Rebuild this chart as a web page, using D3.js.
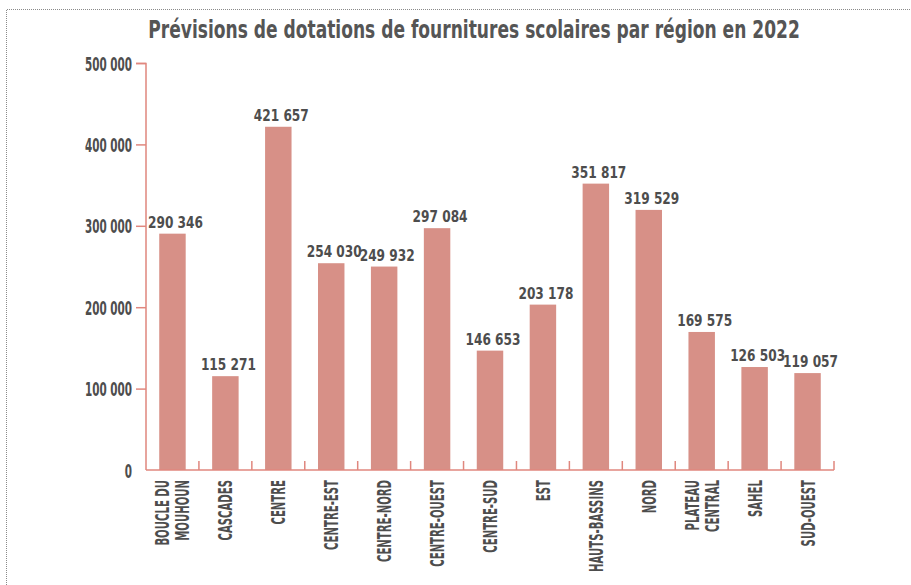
<!DOCTYPE html>
<html>
<head>
<meta charset="utf-8">
<script src="https://cdn.jsdelivr.net/npm/d3@7"></script>
<style>
  html, body { margin: 0; padding: 0; background: #fff; }
  svg { display: block; }
</style>
</head>
<body>
<div id="chart"></div>
<script>
// Prévisions de dotations de fournitures scolaires par région en 2022

const TITLE = 'Prévisions de dotations de fournitures scolaires par région en 2022';

const regions = [
  ['BOUCLE DU', 'MOUHOUN'], ['CASCADES'], ['CENTRE'], ['CENTRE-EST'], ['CENTRE-NORD'],
  ['CENTRE-OUEST'], ['CENTRE-SUD'], ['EST'], ['HAUTS-BASSINS'], ['NORD'],
  ['PLATEAU', 'CENTRAL'], ['SAHEL'], ['SUD-OUEST']
];
const dotations = [
  290346, 115271, 421657, 254030, 249932,
  297084, 146653, 203178, 351817, 319529,
  169575, 126503, 119057
];
const yTicks = [0, 100000, 200000, 300000, 400000, 500000];

const C = {
  bar:   '#D79087',
  axis:  '#E0877E',
  text:  '#4D4D4D',
  title: '#555555',
  frame: '#8A8A8A'
};
const FONT = "'DejaVu Sans Condensed', 'Liberation Sans Narrow', sans-serif";

const W = 911, H = 585;
const ml = 146, mr = 77, mt = 63, mb = 115;
const iw = W - ml - mr;
const ih = H - mt - mb;

const fmt = v => d3.format(',')(v).replace(/,/g, ' ');

const data = regions.map((r, i) => ({ key: r.join(' '), lines: r, value: dotations[i] }));

const svg = d3.select('#chart').append('svg')
  .attr('width', W).attr('height', H)
  .attr('viewBox', `0 0 ${W} ${H}`);

// horizontal squeeze so a sample string has the wanted width
function squeeze(sample, size, target) {
  const t = svg.append('text')
    .attr('font-family', FONT).attr('font-weight', 'bold').attr('font-size', size)
    .text(sample);
  const w = t.node().getComputedTextLength();
  t.remove();
  return target / w;
}

// dotted frame (top + left)
svg.append('path')
  .attr('d', `M6.5,${H} V9.5 H${W}`)
  .attr('fill', 'none')
  .attr('stroke', C.frame)
  .attr('stroke-width', 1)
  .attr('stroke-dasharray', '1,1');

// title
const sxTitle = squeeze(TITLE, 25, 652);
svg.append('text')
  .attr('transform', `translate(474,38) scale(${sxTitle},1)`)
  .attr('font-family', FONT)
  .attr('font-weight', 'bold')
  .attr('font-size', 25)
  .attr('fill', C.title)
  .attr('text-anchor', 'middle')
  .text(TITLE);

const g = svg.append('g').attr('transform', `translate(${ml},${mt})`);

const x = d3.scaleBand()
  .domain(data.map(d => d.key))
  .range([0, iw])
  .paddingInner(0.5)
  .paddingOuter(0.25);

const y = d3.scaleLinear().domain([0, 500000]).range([ih, 0]);

// bars
g.selectAll('.bar')
  .data(data).enter()
  .append('rect')
  .attr('x', d => x(d.key))
  .attr('y', d => y(d.value))
  .attr('width', x.bandwidth())
  .attr('height', d => ih - y(d.value))
  .attr('fill', C.bar);

// value labels
const sxVal = squeeze('421 657', 16, 55);
g.selectAll('.val')
  .data(data).enter()
  .append('text')
  .attr('transform', d => `translate(${x(d.key) + x.bandwidth() / 2 + 3},${y(d.value) - 6}) scale(${sxVal},1)`)
  .attr('text-anchor', 'middle')
  .attr('font-family', FONT)
  .attr('font-weight', 'bold')
  .attr('font-size', 16)
  .attr('fill', C.text)
  .text(d => fmt(d.value));

// y axis
const sxY = squeeze('500 000', 20, 47);
const yAxis = g.append('g')
  .call(d3.axisLeft(y).tickValues(yTicks).tickSize(10).tickFormat(fmt));
yAxis.select('.domain').attr('stroke', C.axis).attr('stroke-width', 1.5)
  .attr('d', `M-10,0.5H0V${ih}`);
yAxis.selectAll('.tick line').attr('stroke', C.axis).attr('stroke-width', 1.5);
yAxis.selectAll('.tick text')
  .attr('fill', C.text)
  .attr('font-family', FONT)
  .attr('font-weight', 'bold')
  .attr('font-size', 20)
  .attr('transform', `translate(-14,0) scale(${sxY},1)`)
  .attr('x', 0)
  .attr('dy', '0.35em');
yAxis.selectAll('.tick').filter(d => d === 0).select('line').remove();

// x axis: line + band boundary ticks pointing up
const xg = g.append('g').attr('transform', `translate(0,${ih})`);
xg.append('line')
  .attr('x1', 0).attr('x2', iw)
  .attr('y1', 0).attr('y2', 0)
  .attr('stroke', C.axis).attr('stroke-width', 1.5);
const step = x.step();
xg.selectAll('.bt')
  .data(data).enter()
  .append('line')
  .attr('x1', d => x(d.key) + x.bandwidth() + step * 0.25)
  .attr('x2', d => x(d.key) + x.bandwidth() + step * 0.25)
  .attr('y1', 0).attr('y2', -9)
  .attr('stroke', C.axis).attr('stroke-width', 1.5);

// x labels (rotated, two lines where needed)
const sxX = squeeze('HAUTS-BASSINS', 19, 92);
const lab = xg.selectAll('.xl')
  .data(data).enter()
  .append('g')
  .attr('transform', d => `translate(${x(d.key) + x.bandwidth() / 2},10)`);
lab.each(function(d) {
  const n = d.lines.length;
  d.lines.forEach((line, i) => {
    d3.select(this).append('text')
      .attr('transform', `translate(${(i - (n - 1) / 2) * 20 + 7},0) rotate(-90) scale(${sxX},1)`)
      .attr('text-anchor', 'end')
      .attr('font-family', FONT)
      .attr('font-weight', 'bold')
      .attr('font-size', 19)
      .attr('fill', C.text)
      .text(line);
  });
});
</script>
</body>
</html>
